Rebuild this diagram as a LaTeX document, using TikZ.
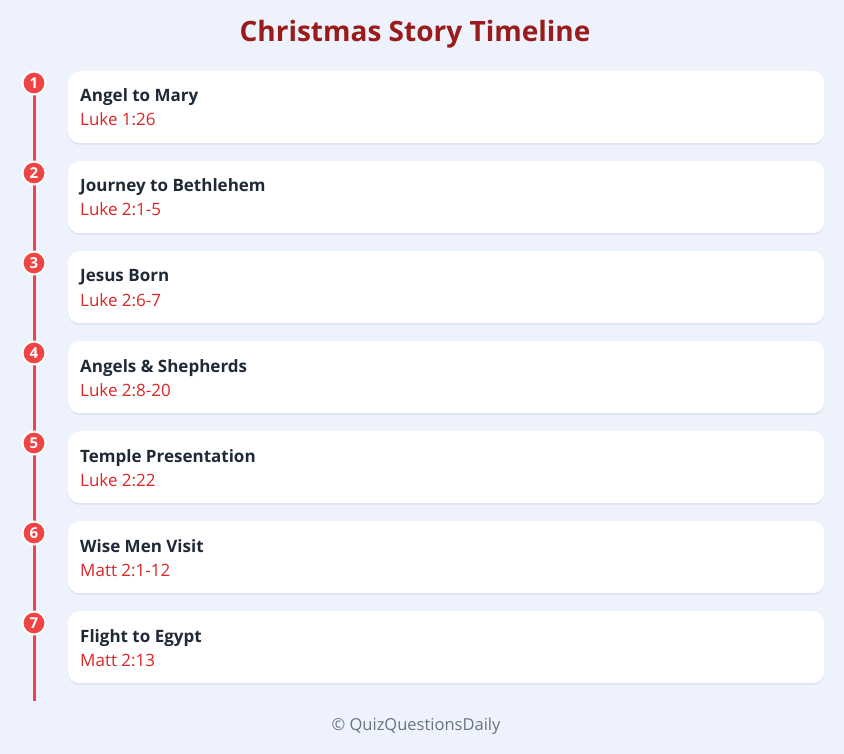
\documentclass[tikz,border=0pt]{standalone}
\usepackage{fontspec}
\setmainfont{Open Sans}
\usetikzlibrary{shadows,calc}
\definecolor{bgcol}{RGB}{238,242,252}
\definecolor{linered}{RGB}{239,68,68}
\definecolor{titlered}{RGB}{153,27,27}
\definecolor{refred}{RGB}{220,38,38}
\definecolor{dark}{RGB}{31,41,55}
\definecolor{footgray}{RGB}{107,114,128}
\tikzset{
  card/.style={fill=white, draw=none, rounded corners=11pt, minimum width=756pt, minimum height=72pt, anchor=north west,
    drop shadow={opacity=0.08, shadow xshift=0pt, shadow yshift=-1.5pt, fill=black!60!blue}},
  dot/.style={circle, fill=linered, draw=white, line width=2pt, minimum size=23pt, inner sep=0pt,
    text=white, font=\fontsize{15}{15}\selectfont\bfseries},
  ttl/.style={anchor=base west, text=dark, font=\fontsize{17}{18}\selectfont\bfseries, inner sep=0pt},
  refl/.style={anchor=base west, text=refred, font=\fontsize{17}{18}\selectfont, inner sep=0pt},
  tline/.style={draw=linered, line width=3pt}
}
\begin{document}
\begin{tikzpicture}[x=1pt,y=-1pt]
\fill[bgcol] (0,0) rectangle (844,754);
\useasboundingbox (0,0) rectangle (844,754);
\node[text=titlered, font=\fontsize{28}{30}\selectfont\bfseries, inner sep=0pt] (title) at (415,34) {Christmas Story Timeline};
\coordinate (ltop) at (34,83);
\coordinate (lbot) at (34,701);
\draw[tline] (ltop) -- (lbot);
\foreach \i/\t/\r in {1/Angel to Mary/Luke 1:26,
                      2/Journey to Bethlehem/Luke 2:1-5,
                      3/Jesus Born/Luke 2:6-7,
                      4/Angels \& Shepherds/Luke 2:8-20,
                      5/Temple Presentation/Luke 2:22,
                      6/Wise Men Visit/Matt 2:1-12,
                      7/Flight to Egypt/Matt 2:13}{
  \pgfmathsetmacro{\yy}{71+90*(\i-1)}
  \node[card] (c\i) at (68,\yy) {};
  \node[dot] (d\i) at (34,\yy+12) {\i};
  \node[ttl] (t\i) at (80,\yy+31) {\t};
  \node[refl] (r\i) at (80,\yy+55) {\r};
}
\node[text=footgray, font=\fontsize{16.5}{18}\selectfont, inner sep=0pt] (foot) at (416,726) {© QuizQuestionsDaily};
\end{tikzpicture}
\end{document}
